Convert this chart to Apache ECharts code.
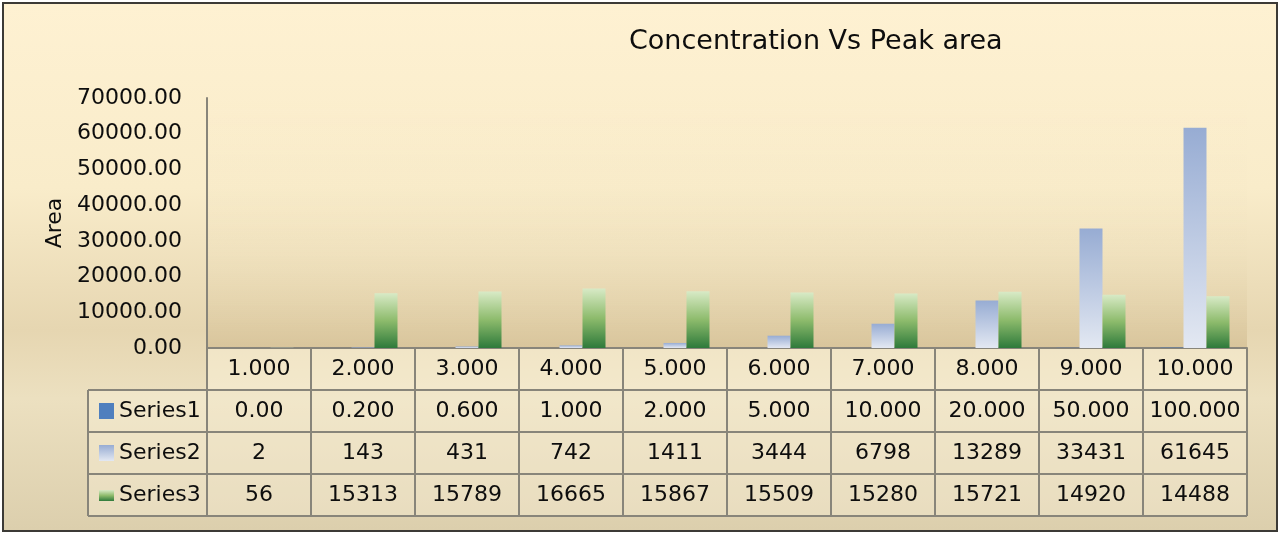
<!DOCTYPE html>
<html>
<head>
<meta charset="utf-8">
<script src="https://cdn.jsdelivr.net/npm/echarts@6/dist/echarts.min.js"></script>
<style>
  html, body { margin: 0; padding: 0; background: #fff; }
  #frame {
    position: absolute; left: 2px; top: 2px; width: 1272px; height: 526px;
    border: 2px solid #3c3a36;
    background: linear-gradient(to bottom, #fef1d2 0%, #f9ecca 35%, #e6d6b1 62%, #ece0c0 75%, #dccfad 100%);
  }
  #chart { position: absolute; left: 0; top: 0; width: 1280px; height: 534px; }
</style>
</head>
<body>
<div id="frame"></div>
<div id="chart"></div>
<script>
// 数据
var categories = ['1.000', '2.000', '3.000', '4.000', '5.000', '6.000', '7.000', '8.000', '9.000', '10.000'];
var seriesNames = ['Series1', 'Series2', 'Series3'];
var series1 = [0, 0.2, 0.6, 1, 2, 5, 10, 20, 50, 100];
var series2 = [2, 143, 431, 742, 1411, 3444, 6798, 13289, 33431, 61645];
var series3 = [56, 15313, 15789, 16665, 15867, 15509, 15280, 15721, 14920, 14488];
// 表格中显示的文字
var series1Text = ['0.00', '0.200', '0.600', '1.000', '2.000', '5.000', '10.000', '20.000', '50.000', '100.000'];
var yTicks = [0, 10000, 20000, 30000, 40000, 50000, 60000, 70000];

var font = 'DejaVu Sans';
var fontSize = 22;
var gridLeft = 207, gridRight = 1247, gridTop = 98, gridBottom = 348;
var colW = (gridRight - gridLeft) / categories.length;
var rowH = 42;
var tableLeft = 88;
var lineColor = '#88857a';
var textColor = '#0d0d0d';

var blueGrad = new echarts.graphic.LinearGradient(0, 0, 0, 1, [
  {offset: 0, color: '#97acd3'}, {offset: 1, color: '#e3e8f2'}
]);
var greenGrad = new echarts.graphic.LinearGradient(0, 0, 0, 1, [
  {offset: 0, color: '#d8eac6'}, {offset: 0.5, color: '#8dbb6c'}, {offset: 1, color: '#2e7a3b'}
]);
var seriesColors = ['#4f7fbe', blueGrad, greenGrad];

// 数据表
function buildTable() {
  var els = [];
  var rows = [series1Text, series2.map(String), series3.map(String)];
  // 单元格底色
  els.push({type: 'rect', shape: {x: gridLeft, y: gridBottom, width: gridRight - gridLeft, height: rowH},
    style: {fill: 'rgba(252,244,220,0.45)'}});
  els.push({type: 'rect', shape: {x: tableLeft, y: gridBottom + rowH, width: gridRight - tableLeft, height: rowH * 3},
    style: {fill: 'rgba(252,244,220,0.35)'}});
  // 横线
  for (var r = 0; r <= 4; r++) {
    var y = gridBottom + r * rowH;
    var x0 = r === 0 ? gridLeft : tableLeft;
    els.push({type: 'line', shape: {x1: x0, y1: y, x2: gridRight, y2: y},
      style: {stroke: lineColor, lineWidth: 2}});
  }
  // 竖线
  els.push({type: 'line', shape: {x1: tableLeft, y1: gridBottom + rowH, x2: tableLeft, y2: gridBottom + rowH * 4},
    style: {stroke: lineColor, lineWidth: 2}});
  for (var c = 0; c <= categories.length; c++) {
    var x = gridLeft + c * colW;
    els.push({type: 'line', shape: {x1: x, y1: gridBottom, x2: x, y2: gridBottom + rowH * 4},
      style: {stroke: lineColor, lineWidth: 2}});
  }
  // 表头
  for (var i = 0; i < categories.length; i++) {
    els.push({type: 'text', x: gridLeft + (i + 0.5) * colW, y: gridBottom + rowH / 2,
      style: {text: categories[i], font: fontSize + 'px ' + font, fill: textColor, align: 'center', verticalAlign: 'middle'}});
  }
  // 系列行
  for (var s = 0; s < 3; s++) {
    var cy = gridBottom + (s + 1.5) * rowH;
    els.push({type: 'rect', shape: {x: 99, y: s === 2 ? cy - 5 : cy - 8, width: 15, height: s === 2 ? 11 : 16},
      style: {fill: seriesColors[s]}});
    els.push({type: 'text', x: 119, y: cy,
      style: {text: seriesNames[s], font: fontSize + 'px ' + font, fill: textColor, align: 'left', verticalAlign: 'middle'}});
    for (var j = 0; j < categories.length; j++) {
      els.push({type: 'text', x: gridLeft + (j + 0.5) * colW, y: cy,
        style: {text: rows[s][j], font: fontSize + 'px ' + font, fill: textColor, align: 'center', verticalAlign: 'middle'}});
    }
  }
  return els;
}

var myChart = echarts.init(document.getElementById('chart'));
var option = {
  backgroundColor: 'transparent',
  animation: false,
  title: {
    text: 'Concentration Vs Peak area',
    left: 624, top: 23,
    textStyle: {fontFamily: font, fontSize: 27, fontWeight: 'normal', color: textColor}
  },
  grid: {
    left: gridLeft, right: 1280 - gridRight, top: gridTop, bottom: 534 - gridBottom,
    show: true, borderWidth: 0,
    backgroundColor: new echarts.graphic.LinearGradient(0, 0, 0, 1, [
      {offset: 0, color: 'rgba(254,241,210,0)'}, {offset: 0.6, color: 'rgba(240,226,190,0.3)'},
      {offset: 1, color: 'rgba(214,194,152,0.9)'}
    ])
  },
  xAxis: {
    type: 'category',
    data: categories,
    axisLine: {lineStyle: {color: lineColor, width: 2}},
    axisTick: {show: false},
    axisLabel: {show: false}
  },
  yAxis: {
    type: 'value',
    min: yTicks[0], max: yTicks[yTicks.length - 1], interval: 10000,
    name: 'Area',
    nameLocation: 'middle',
    nameGap: 140,
    nameTextStyle: {fontFamily: font, fontSize: fontSize, color: textColor},
    axisLine: {show: true, lineStyle: {color: lineColor, width: 2}},
    axisTick: {show: false},
    splitLine: {show: false},
    axisLabel: {
      fontFamily: font, fontSize: fontSize, color: textColor, margin: 25,
      formatter: function (v) { return v.toFixed(2); }
    }
  },
  series: [
    {name: seriesNames[0], type: 'bar', data: series1, barWidth: 23, barGap: '0%', itemStyle: {color: seriesColors[0]}},
    {name: seriesNames[1], type: 'bar', data: series2, barWidth: 23, barGap: '0%', itemStyle: {color: seriesColors[1]}},
    {name: seriesNames[2], type: 'bar', data: series3, barWidth: 23, barGap: '0%', itemStyle: {color: seriesColors[2]}}
  ],
  graphic: buildTable()
};
myChart.setOption(option);
</script>
</body>
</html>
